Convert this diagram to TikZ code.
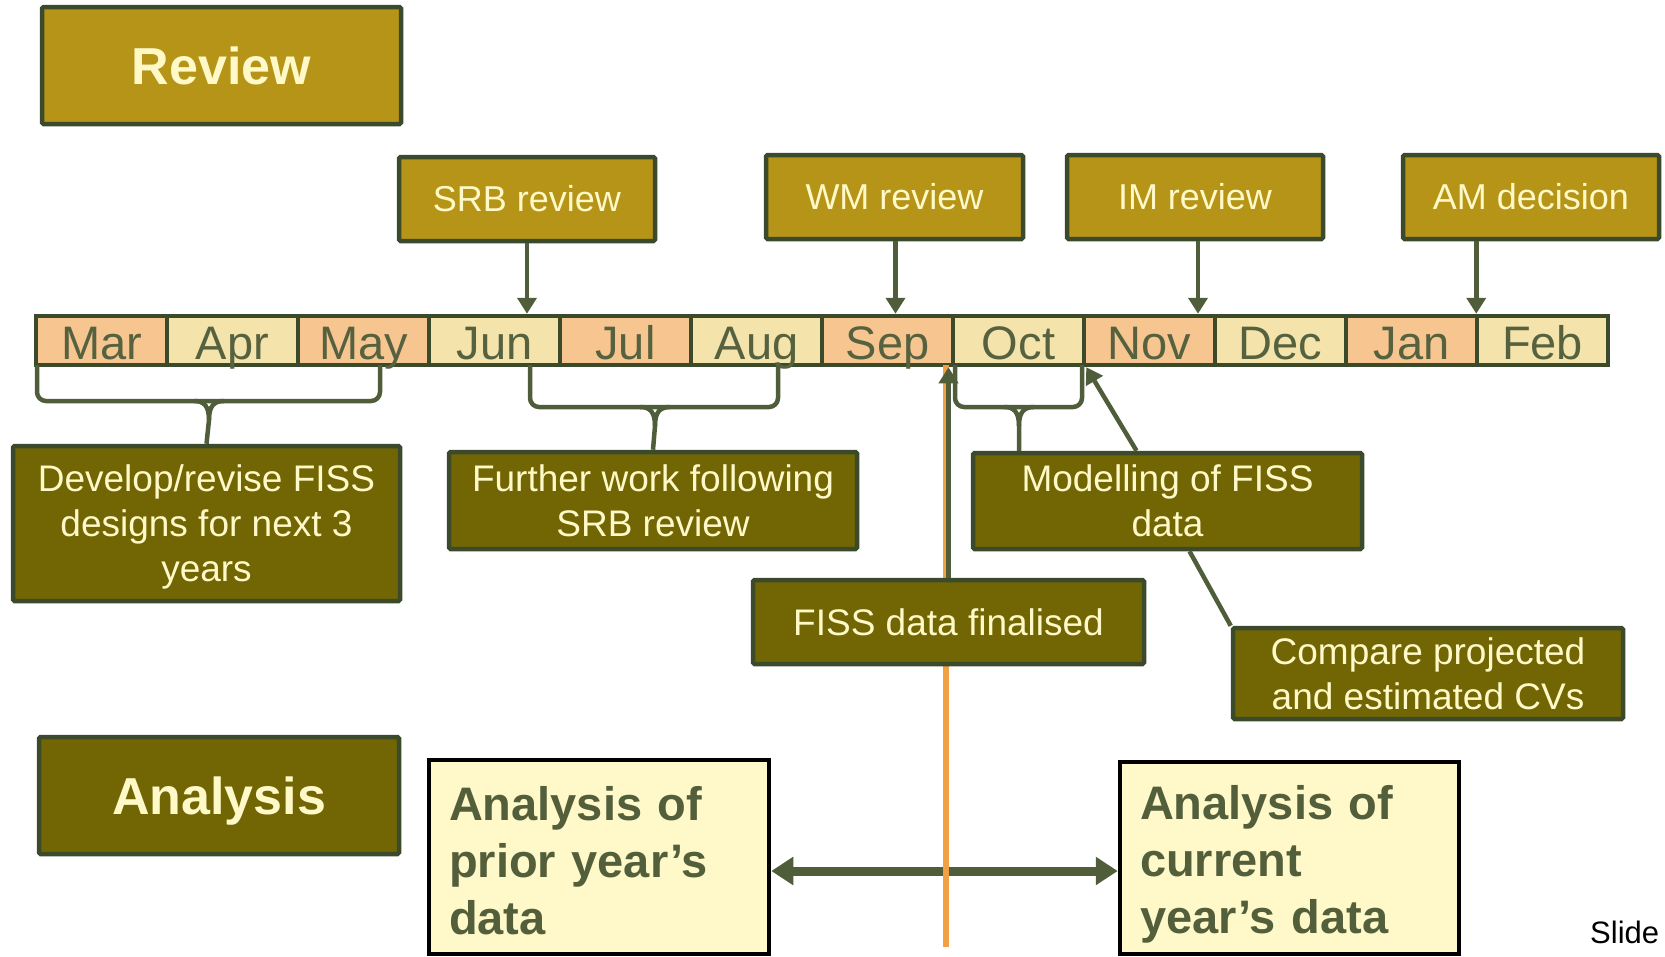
\documentclass[tikz,border=0pt]{standalone}
\usepackage{fontspec}
\setmainfont{Liberation Sans}
\usetikzlibrary{arrows.meta,calc}
\definecolor{goldc}{HTML}{B59418}
\definecolor{bordc}{HTML}{3C4A2C}
\definecolor{olivec}{HTML}{716504}
\definecolor{lightc}{HTML}{FFF9C8}
\definecolor{orangec}{HTML}{F7C690}
\definecolor{yellowc}{HTML}{F4E3AA}
\definecolor{monthc}{HTML}{56623F}
\definecolor{connc}{HTML}{505D3A}
\definecolor{paleC}{HTML}{FFF9C9}
\definecolor{lineor}{HTML}{F2A044}
\definecolor{darktext}{HTML}{535E3B}
\tikzset{
  goldbox/.style={draw=bordc, line width=4.5pt, fill=goldc, text=lightc, rounded corners=1.5pt,
    font=\fontsize{36}{44}\selectfont, inner sep=0pt, align=center},
  titlebox/.style={draw=bordc, line width=4.5pt, text=lightc, rounded corners=1.5pt,
    font=\bfseries\fontsize{52}{60}\selectfont, inner sep=0pt, align=center, text depth=0pt},
  olivebox/.style={draw=bordc, line width=4.5pt, fill=olivec, text=lightc, rounded corners=1.5pt,
    font=\fontsize{37}{45}\selectfont, inner sep=0pt, align=center},
  palebox/.style={draw=black, line width=4.5pt, fill=paleC, text=darktext,
    font=\bfseries\fontsize{47}{57}\selectfont, inner xsep=20pt, inner ysep=0pt, align=left},
  monthcell/.style={draw=bordc, line width=4.5pt, minimum width=131pt, minimum height=49pt,
    inner sep=0pt, text=monthc, font=\fontsize{47}{50}\selectfont, text height=43pt, text depth=6pt},
  brace/.style={draw=connc, line width=4.5pt, rounded corners=9pt},
  bracestem/.style={draw=connc, line width=4.5pt},
  downarr/.style={draw=connc, line width=4.5pt, -{Triangle[width=19pt,length=16pt]}},
  dblarr/.style={draw=connc, line width=9pt, {Triangle[width=27pt,length=22pt]}-{Triangle[width=27pt,length=22pt]}},
  orline/.style={draw=lineor, line width=6pt},
}
\begin{document}
\begin{tikzpicture}[x=1pt,y=-1pt]
\useasboundingbox (0,0) rectangle (1665,956);

% title boxes
\node[titlebox, fill=goldc, minimum width=359pt, minimum height=117pt] (review) at (221.5,65.5) {Review};
\node[titlebox, fill=olivec, minimum width=360pt, minimum height=117pt] (analysis) at (219,795.5) {Analysis};

% review milestone boxes
\node[goldbox, minimum width=256pt, minimum height=84pt] (srb) at (527,199) {SRB review};
\node[goldbox, minimum width=257pt, minimum height=84pt] (wm) at (894.5,197) {WM review};
\node[goldbox, minimum width=256pt, minimum height=84pt] (im) at (1195,197) {IM review};
\node[goldbox, minimum width=256pt, minimum height=84pt] (am) at (1531,197) {AM decision};

% month bar
\foreach \m/\c [count=\i from 0] in {Mar/orangec,Apr/yellowc,May/orangec,Jun/yellowc,Jul/orangec,Aug/yellowc,Sep/orangec,Oct/yellowc,Nov/orangec,Dec/yellowc,Jan/orangec,Feb/yellowc}
  \node[monthcell, fill=\c] (\m) at ({101.5+131*\i},340.5) {\m};

% arrows from review boxes to the bar
\draw[downarr] (srb.south) -- (srb.south |- Jun.north);
\draw[downarr] ($(wm.south)+(1,0)$) -- ($(wm.south |- Sep.north)+(1,0)$);
\draw[downarr] ($(im.south)+(3,0)$) -- ($(im.south |- Nov.north)+(3,0)$);
\draw[downarr] ($(am.south -| Jan.north east)+(-3,0)$) -- ($(Jan.north east)+(-3,0)$);

% activity boxes
\node[olivebox, minimum width=387pt, minimum height=155pt] (develop) at (206.5,523.5) {\rule{0pt}{34pt}Develop/revise FISS\\designs for next 3\\years};
\node[olivebox, minimum width=408pt, minimum height=97pt] (further) at (653,500.5) {Further work following\\SRB review};
\node[olivebox, minimum width=389pt, minimum height=96pt] (model) at (1167.5,501) {Modelling of FISS\\data};
\node[olivebox, minimum width=390pt, minimum height=91pt] (compare) at (1428,673.5) {Compare projected\\and estimated CVs};

% braces
\draw[brace] (37,365) -- (37,401) -- (380,401) -- (380,365);
\draw[bracestem] (develop.north) -- (209,420) .. controls (209,406) and (204,401) .. (194,401);
\draw[bracestem] (209,420) .. controls (209,406) and (214,401) .. (224,401);

\draw[brace] (530,365) -- (530,407) -- (778,407) -- (778,365);
\draw[bracestem] (further.north) -- (655,426) .. controls (655,412) and (650,407) .. (640,407);
\draw[bracestem] (655,426) .. controls (655,412) and (660,407) .. (670,407);

\coordinate (b3) at (1019,0);
\draw[brace] (955,365) -- (955,407) -- (1082,407) -- (1082,365);
\draw[bracestem] (b3 |- model.north) -- (1019,426) .. controls (1019,412) and (1014,407) .. (1004,407);
\draw[bracestem] (1019,426) .. controls (1019,412) and (1024,407) .. (1034,407);

% model connectors
\draw[downarr] ($(model.north)+(-31,0)$) -- (Oct.south east);
\draw[draw=connc, line width=4.5pt] ($(model.south)+(22,0)$) -- (compare.north west);

% analysis boxes and double arrow
\node[palebox, text width=300pt, minimum height=194pt] (prior) at (599,857) {\rule{0pt}{41pt}Analysis of\\prior year’s\\data};
\node[palebox, text width=299pt, minimum height=192pt] (current) at (1289.5,858) {\rule{0pt}{47pt}Analysis of\\current\\year’s data};
\coordinate (dy) at (0,871);
\draw[dblarr] (prior.east |- dy) -- (current.west |- dy);

% orange finalisation line
\coordinate (obot) at (946,947);
\draw[orline] (946,365) -- (obot);

\node[olivebox, minimum width=391pt, minimum height=84pt] (fiss) at (948.5,622) {FISS data finalised};
\draw[downarr] (fiss.north) -- (fiss.north |- Sep.south);

\node[anchor=base west, inner sep=0pt, font=\fontsize{31}{36}\selectfont] (slide) at (1590,943) {Slide};
\end{tikzpicture}
\end{document}
